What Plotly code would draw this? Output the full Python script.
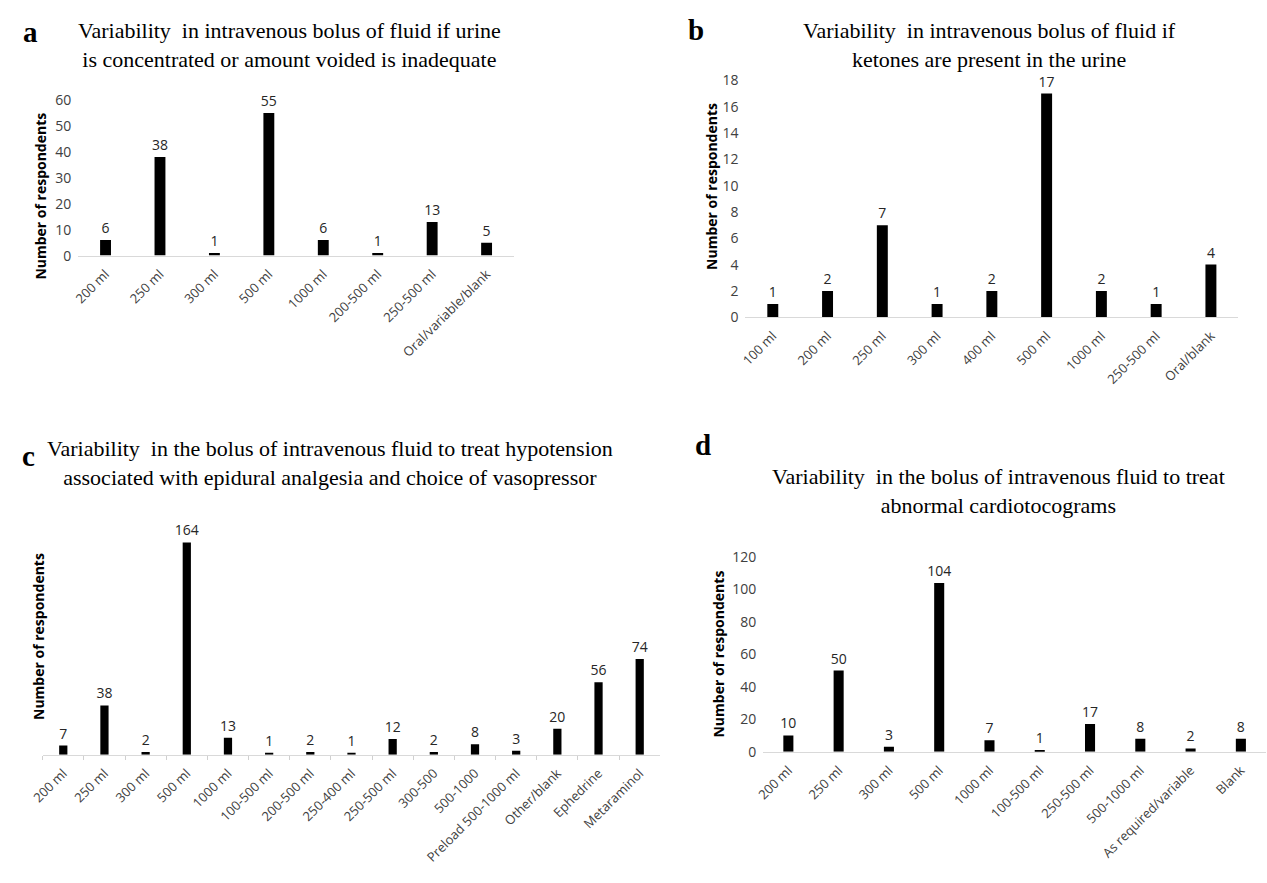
import plotly.graph_objects as go

W, H = 1267, 883

# ---------- data ----------
a_cats = ["200 ml", "250 ml", "300 ml", "500 ml", "1000 ml", "200-500 ml", "250-500 ml", "Oral/variable/blank"]
a_vals = [6, 38, 1, 55, 6, 1, 13, 5]

b_cats = ["100 ml", "200 ml", "250 ml", "300 ml", "400 ml", "500 ml", "1000 ml", "250-500 ml", "Oral/blank"]
b_vals = [1, 2, 7, 1, 2, 17, 2, 1, 4]

c_cats = ["200 ml", "250 ml", "300 ml", "500 ml", "1000 ml", "100-500 ml", "200-500 ml", "250-400 ml",
          "250-500 ml", "300-500", "500-1000", "Preload 500-1000 ml", "Other/blank", "Ephedrine", "Metaraminol"]
c_vals = [7, 38, 2, 164, 13, 1, 2, 1, 12, 2, 8, 3, 20, 56, 74]

d_cats = ["200 ml", "250 ml", "300 ml", "500 ml", "1000 ml", "100-500 ml", "250-500 ml", "500-1000 ml",
          "As required/variable", "Blank"]
d_vals = [10, 50, 3, 104, 7, 1, 17, 8, 2, 8]

titles = {
    "a": "Variability  in intravenous bolus of fluid if urine<br>is concentrated or amount voided is inadequate",
    "b": "Variability  in intravenous bolus of fluid if<br>ketones are present in the urine",
    "c": "Variability  in the bolus of intravenous fluid to treat hypotension<br>associated with epidural analgesia and choice of vasopressor",
    "d": "Variability  in the bolus of intravenous fluid to treat<br>abnormal cardiotocograms",
}


def px(x):
    return x / W


def py(y):
    return 1 - y / H


SANS = "Open Sans, Lato, sans-serif"
SERIF = "Liberation Serif, Times New Roman, serif"

fig = go.Figure()

panels = [
    # key, cats, vals, x0, x1, ytop, ybottom, yrange, dtick, showy, ticks
    ("a", a_cats, a_vals, 66, 506, 92, 251, [0, 60], 10, True, False),
    ("b", b_cats, b_vals, 740, 1238, 72, 314, [0, 18], 2, True, False),
    ("c", c_cats, c_vals, 30, 654, 523, 761, [0, 180], 20, False, True),
    ("d", d_cats, d_vals, 758, 1266, 559, 758, [0, 120], 20, True, False),
]

for i, (key, cats, vals, x0, x1, yt, yb, yr, dt, showy, ticks) in enumerate(panels):
    n = "" if i == 0 else str(i + 1)
    fig.add_trace(go.Bar(
        x=cats, y=vals, xaxis="x" + n, yaxis="y" + n,
        marker=dict(color="black", line=dict(width=0)),
        width=0.2,
        text=[str(v) for v in vals], textposition="outside", constraintext="none",
        textfont=dict(family=SANS, size=14, color="#262626"),
        cliponaxis=False, showlegend=False,
    ))
    fig.update_layout({
        "xaxis" + n: dict(
            domain=[px(x0), px(x1)], anchor="y" + n, type="category",
            tickangle=-45, tickfont=dict(family=SANS, size=13, color="#404040"),
            ticklabelstandoff=5,
            showline=True, linecolor="#d9d9d9", linewidth=1,
            ticks="outside" if ticks else "", tickson="boundaries", ticklen=4, tickcolor="#d0d0d0",
            showgrid=False, zeroline=False, fixedrange=True,
        ),
        "yaxis" + n: dict(
            domain=[py(yb), py(yt)], anchor="x" + n, range=yr, dtick=dt,
            showticklabels=showy, tickfont=dict(family=SANS, size=14, color="#404040"),
            ticklabelstandoff=6,
            showgrid=False, zeroline=False, showline=False, ticks="", fixedrange=True,
        ),
    })

anns = []
# panel letters
for letter, x, y in [("a", 18, 22), ("b", 690, 20), ("c", 16, 456), ("d", 697, 445)]:
    anns.append(dict(text=letter, x=px(x), y=py(y), xref="paper", yref="paper", showarrow=False,
                     xanchor="center", yanchor="middle",
                     font=dict(family=SERIF, size=29, color="black", weight="bold")))
# titles
for key, cx, cy in [("a", 279, 36), ("b", 987, 36), ("c", 320, 463), ("d", 996, 492)]:
    anns.append(dict(text=titles[key], x=px(cx), y=py(cy), xref="paper", yref="paper", showarrow=False,
                     xanchor="center", yanchor="middle", align="center",
                     font=dict(family=SERIF, size=22, color="black")))
# y-axis titles
for x, y in [(28, 190), (705, 180), (25, 640), (713, 658)]:
    anns.append(dict(text="Number of respondents", x=px(x), y=py(y), xref="paper", yref="paper",
                     showarrow=False, textangle=-90, xanchor="center", yanchor="middle",
                     font=dict(family=SANS, size=14, color="black", weight="bold")))

fig.update_layout(
    width=W, height=H, margin=dict(l=0, r=0, t=0, b=0),
    paper_bgcolor="white", plot_bgcolor="white",
    annotations=anns, bargap=0.8,
)

fig.write_html("out.html", config={"displayModeBar": False})
